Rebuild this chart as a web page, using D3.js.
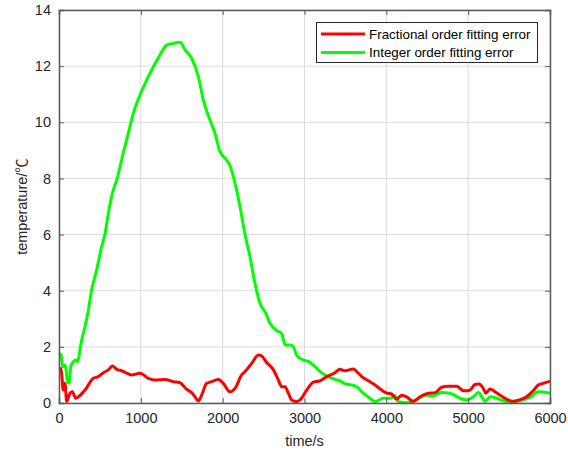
<!DOCTYPE html>
<html><head><meta charset="utf-8">
<script src="https://cdn.jsdelivr.net/npm/d3@7"></script>
<style>
html,body{margin:0;padding:0;background:#fff;}
text{font-family:"Liberation Sans",Arial,Helvetica,sans-serif;}
</style></head>
<body><svg id="c" width="568" height="453"></svg>
<script>
const xTicks = [0,1000,2000,3000,4000,5000,6000];
const yTicks = [0,2,4,6,8,10,12,14];
const seriesNames = ["Fractional order fitting error","Integer order fitting error"];

const fracT = [0,24,53,73,94,134,163,204,236,318,419,481,542,603,652,705,766,888,990,1091,1173,1295,1397,1479,1560,1621,1662,1703,1743,1805,1866,1947,2008,2090,2151,2232,2273,2355,2436,2477,2538,2620,2680,2721,2762,2803,2843,2905,2946,3027,3108,3190,3271,3373,3434,3495,3597,3638,3699,3780,3862,3943,4004,4065,4126,4187,4249,4330,4412,4513,4595,4676,4758,4860,4941,4990,5022,5083,5132,5185,5214,5267,5328,5389,5471,5552,5613,5715,5796,5857,5918,6000];
const fracV = [1.24,1.22,0.46,0.70,0.05,0.35,0.40,0.17,0.22,0.46,0.88,0.94,1.08,1.18,1.32,1.20,1.15,1.00,1.06,0.88,0.82,0.84,0.76,0.72,0.49,0.37,0.22,0.07,0.28,0.70,0.76,0.84,0.70,0.40,0.52,1.00,1.12,1.41,1.71,1.67,1.44,1.18,0.82,0.58,0.58,0.35,0.11,0.05,0.11,0.46,0.74,0.79,0.94,1.08,1.20,1.15,1.21,1.12,0.94,0.79,0.64,0.46,0.35,0.32,0.13,0.28,0.22,0.05,0.22,0.35,0.37,0.56,0.60,0.60,0.44,0.44,0.46,0.66,0.68,0.52,0.35,0.50,0.40,0.28,0.13,0.06,0.10,0.22,0.44,0.64,0.70,0.77];

const intT = [0,24,45,61,75,106,122,143,175,204,228,257,277,318,359,399,460,521,562,603,652,705,794,847,908,990,1071,1153,1234,1316,1397,1479,1540,1621,1703,1764,1845,1906,1968,2029,2090,2151,2212,2273,2334,2395,2456,2518,2579,2660,2721,2762,2823,2864,2905,2986,3047,3108,3190,3271,3373,3434,3495,3577,3638,3719,3800,3862,3963,4045,4106,4146,4249,4371,4493,4554,4676,4778,4900,4982,5063,5124,5177,5206,5267,5349,5430,5532,5593,5694,5756,5857,6000];
const intV = [1.77,1.72,1.30,1.29,1.35,0.76,0.70,1.29,1.47,1.53,1.47,1.90,2.24,2.72,3.31,4.03,4.74,5.57,6.02,6.76,7.47,7.94,9.01,9.61,10.32,10.97,11.50,11.98,12.40,12.75,12.81,12.85,12.58,12.28,11.63,10.79,10.08,9.61,8.95,8.72,8.45,7.83,6.99,6.00,5.21,4.26,3.55,3.25,2.84,2.58,2.48,2.07,2.07,2.00,1.70,1.53,1.48,1.35,1.12,0.96,0.84,0.79,0.68,0.64,0.58,0.35,0.17,0.05,0.17,0.17,0.26,0.05,0.01,0.13,0.28,0.25,0.37,0.35,0.17,0.11,0.22,0.37,0.17,0.05,0.22,0.17,0.08,0.01,0.05,0.13,0.20,0.40,0.35];

const colors = ["#ff0000","#00ff00"];

const svg = d3.select("#c");
const L=59, R=550, T=10, B=403;
const x = d3.scaleLinear().domain([0,6000]).range([L,R]);
const y = d3.scaleLinear().domain([0,14]).range([B,T]);

// grid
const g = svg.append("g");
g.selectAll(".gx").data(xTicks).enter().append("line")
  .attr("x1",d=>x(d)).attr("x2",d=>x(d)).attr("y1",T).attr("y2",B)
  .attr("stroke","#dcdcdc").attr("stroke-width",1);
g.selectAll(".gy").data(yTicks).enter().append("line")
  .attr("x1",L).attr("x2",R).attr("y1",d=>y(d)).attr("y2",d=>y(d))
  .attr("stroke","#dcdcdc").attr("stroke-width",1);

// lines
const line = d3.line().x(d=>x(d[0])).y(d=>y(d[1])).curve(d3.curveMonotoneX);
const series = [d3.zip(fracT,fracV), d3.zip(intT,intV)];
[1,0].forEach(i=>{
  svg.append("path").datum(series[i]).attr("d",line)
    .attr("fill","none").attr("stroke",colors[i]).attr("stroke-width",3)
    .attr("stroke-linejoin","round");
});

// axes
const axCol="#5a5a5a";
const xb = svg.append("g").attr("transform",`translate(0,${B})`)
  .call(d3.axisBottom(x).tickValues(xTicks).tickSize(-5).tickPadding(10).tickFormat(d3.format("d")));
const xt = svg.append("g").attr("transform",`translate(0,${T})`)
  .call(d3.axisTop(x).tickValues(xTicks).tickSize(-5).tickFormat(""));
const yl = svg.append("g").attr("transform",`translate(${L},0)`)
  .call(d3.axisLeft(y).tickValues(yTicks).tickSize(-5).tickPadding(8));
const yr = svg.append("g").attr("transform",`translate(${R},0)`)
  .call(d3.axisRight(y).tickValues(yTicks).tickSize(-5).tickFormat(""));
[xb,xt,yl,yr].forEach(a=>{
  a.selectAll("path").attr("stroke",axCol).attr("stroke-width",1.5);
  a.selectAll("line").attr("stroke",axCol).attr("stroke-width",1);
  a.selectAll("text").attr("fill","#262626").style("font-size","14.5px")
   .style("font-family",'"Liberation Sans",Arial,sans-serif');
});

svg.append("text").attr("x",(L+R)/2).attr("y",446).attr("text-anchor","middle")
  .attr("fill","#262626").style("font-size","14.5px").text("time/s");
const yt = svg.append("text").attr("transform",`translate(27,${(T+B)/2}) rotate(-90)`)
  .attr("text-anchor","middle").attr("fill","#262626").style("font-size","14.5px");
yt.append("tspan").text("temperature/");
yt.append("tspan").style("font-family",'"Noto Sans CJK SC",sans-serif').text("℃");

// legend
const lg = svg.append("g");
lg.append("rect").attr("x",316.5).attr("y",22.5).attr("width",221).attr("height",40)
  .attr("fill","#fff").attr("stroke","#262626").attr("stroke-width",1);
seriesNames.forEach((n,i)=>{
  const yy = 34 + i*18.5;
  lg.append("line").attr("x1",321).attr("x2",365).attr("y1",yy).attr("y2",yy)
    .attr("stroke",colors[i]).attr("stroke-width",3);
  lg.append("text").attr("x",369).attr("y",yy+4.5).attr("fill","#000")
    .style("font-size","13.4px").text(n);
});
</script></body></html>
